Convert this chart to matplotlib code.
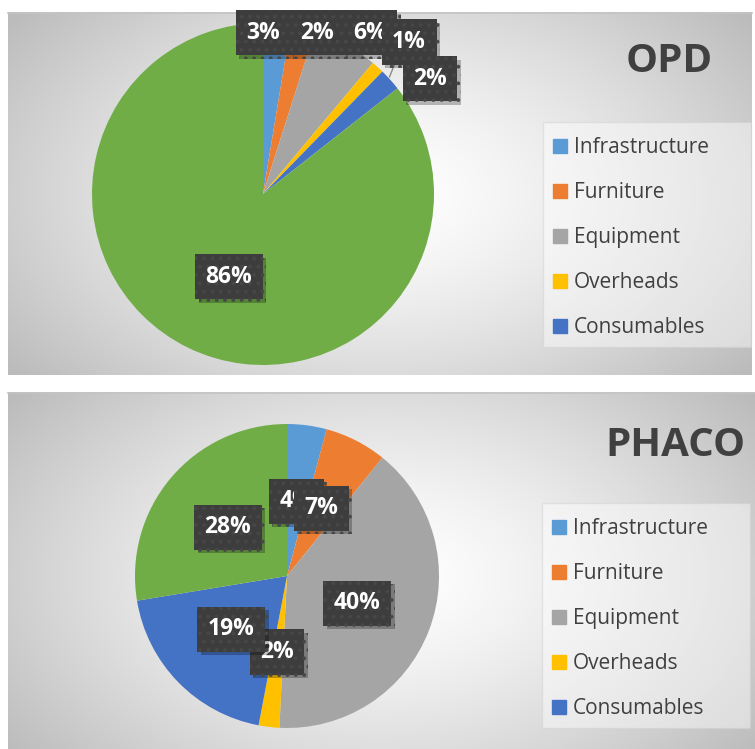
import numpy as np
import matplotlib
matplotlib.use("Agg")
import matplotlib.pyplot as plt
from matplotlib.patches import Patch, Rectangle
from matplotlib import patheffects

# data (percent of total cost)
categories = ["Infrastructure", "Furniture", "Equipment", "Overheads",
              "Consumables", "Manpower"]
opd_values = [2.6, 2.3, 6.2, 1.2, 2.1, 85.6]
phaco_values = [4.2, 6.6, 40.0, 2.2, 19.4, 27.6]
chart_titles = ["OPD", "PHACO"]

colors = ["#5B9BD5", "#ED7D31", "#A5A5A5", "#FFC000", "#4472C4", "#70AD47"]

# label box centres, in pie units (radius = 1)
opd_label_xy = [(0.0, 0.942), (0.316, 0.942), (0.626, 0.942),
                (0.854, 0.889), (0.977, 0.673), (-0.199, -0.485)]
phaco_label_xy = [(0.060, 0.493), (0.224, 0.447), (0.461, -0.178),
                  (-0.066, -0.50), (-0.368, -0.349), (-0.388, 0.322)]

W, H = 755, 749
plt.rcParams["font.family"] = ["Open Sans", "DejaVu Sans"]
plt.rcParams["hatch.linewidth"] = 1.5

fig = plt.figure(figsize=(W / 100, H / 100), dpi=100)
fig.patch.set_facecolor("white")


def px_axes(left, top, w, h, **kw):
    return fig.add_axes([left / W, 1 - (top + h) / H, w / W, h / H], **kw)


# panel backgrounds (radial grey gradient like the Excel chart style)
bg = px_axes(0, 0, W, H)
bg.set_xlim(0, W)
bg.set_ylim(H, 0)
bg.axis("off")
panels = [(8, 12, 752, 375), (8, 392, 755, 760)]
for x0, y0, x1, y1 in panels:
    gx = np.linspace(-1, 1, 300)
    gy = np.linspace(-1, 1, 150)
    xx, yy = np.meshgrid(gx, gy)
    d = np.sqrt((xx * 1.0) ** 2 + (yy * 0.8) ** 2) / np.sqrt(1.64)
    shade = 1.0 - 0.27 * d ** 1.4
    img = np.dstack([shade, shade, shade])
    bg.imshow(img, extent=(x0, x1, y1, y0), aspect="auto", interpolation="bilinear")
    bg.plot([x0, x1], [y0 + 0.5, y0 + 0.5], color="#c4c4c4", lw=1.2)

pies = [
    (opd_values, opd_label_xy, (263, 194, 171), (669, 62), (543, 122)),
    (phaco_values, phaco_label_xy, (287, 576, 152), (675, 445), (542, 503)),
]

shadow = [patheffects.SimplePatchShadow(offset=(2.5, -2.5),
                                        shadow_rgbFace="black", alpha=0.25),
          patheffects.Normal()]

for i, (values, label_xy, (cx, cy, r), title_xy, leg_xy) in enumerate(pies):
    ax = px_axes(cx - r, cy - r, 2 * r, 2 * r)
    ax.pie(values, colors=colors, startangle=90, counterclock=False,
           radius=1, wedgeprops=dict(linewidth=0))
    ax.set_xlim(-1, 1)
    ax.set_ylim(-1, 1)
    ax.axis("off")

    for k, (v, (lx, ly)) in enumerate(zip(values, label_xy)):
        t = ax.text(lx, ly, "%d%%" % round(v), ha="center",
                    va="center", fontsize=16.5, fontweight="bold",
                    color="white", zorder=5 + k,
                    bbox=dict(boxstyle="square,pad=0.46", fc="#3d3d3d",
                              ec="#474747", lw=0, hatch=".."))
        t.get_bbox_patch().set_path_effects(shadow)

    if i == 0:
        # leader line for the small consumables slice
        ax.plot([0.74, 0.77, 0.83], [0.685, 0.76, 0.76], color="#8c8c8c",
                lw=1, zorder=4, clip_on=False)

    fig.text(title_xy[0] / W, 1 - title_xy[1] / H, chart_titles[i],
             fontsize=29, fontweight="bold", color="#404040",
             ha="center", va="center")

    # legend box
    lx0, ly0 = leg_xy
    bg.add_patch(Rectangle((lx0, ly0), 208, 225, fc="white", alpha=0.45,
                           ec="#cfcfcf", lw=1))
    handles = [Patch(color=c) for c in colors[:5]]
    fig.legend(handles, categories[:5], loc="upper left",
               bbox_to_anchor=((lx0 + 6) / W, 1 - (ly0 + 11) / H),
               frameon=False, fontsize=15, handlelength=0.68,
               handleheight=0.68, handletextpad=0.3, labelspacing=1.15,
               labelcolor="#404040", borderpad=0.2, borderaxespad=0)

fig.savefig("out.png", dpi=100)
